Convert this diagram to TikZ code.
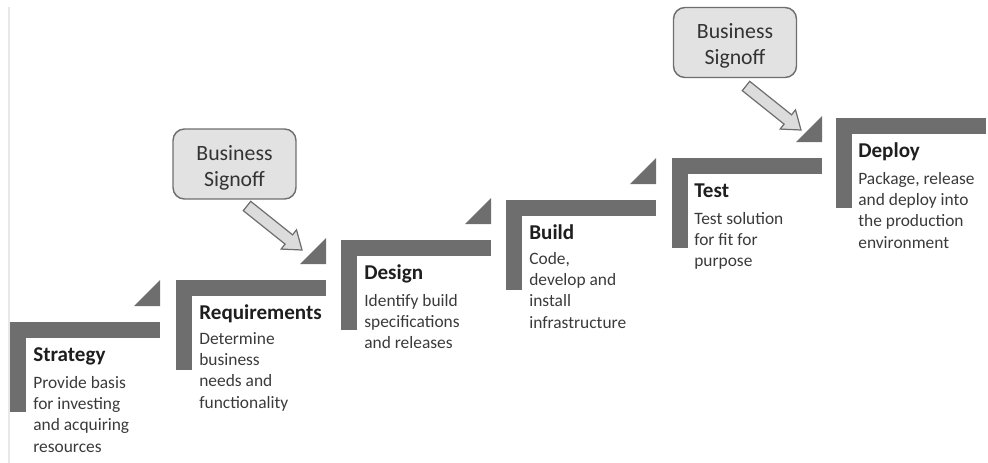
\documentclass[tikz,border=0pt]{standalone}
\usepackage{fontspec}
\setmainfont{Carlito}
\usetikzlibrary{calc}

\definecolor{stairgray}{HTML}{6E6E6E}
\definecolor{signfill}{HTML}{E2E2E2}
\definecolor{arrowfill}{HTML}{DCDCDC}
\definecolor{titletext}{HTML}{1E1E1E}
\definecolor{bodytext}{HTML}{3A3A3A}

\tikzset{
  stair/.style={fill=stairgray},
  steptitle/.style={anchor=base west, inner sep=0pt, text=titletext,
    font=\fontsize{12}{14}\selectfont\bfseries},
  stepbody/.style={anchor=north west, inner sep=0pt, align=left,
    text=bodytext, font=\fontsize{9.9}{12.1}\selectfont},
  signoff/.style={draw=stairgray, fill=signfill, line width=0.8pt,
    rounded corners=6.5pt, minimum width=2.46cm, minimum height=1.4cm,
    align=center, text height=28pt, text depth=2.6pt, text=black!80,
    font=\fontsize{12.4}{14.7}\selectfont},
  blockarrow/.style={fill=arrowfill, draw=stairgray, line width=0.7pt,
    to path={($(\tikztostart)!3.4pt!90:(\tikztotarget)$)
      -- ($(\tikztotarget)!9.6pt!(\tikztostart)!3.4pt!90:(\tikztotarget)$)
      -- ($(\tikztotarget)!9.6pt!(\tikztostart)!7pt!90:(\tikztotarget)$)
      -- (\tikztotarget)
      -- ($(\tikztotarget)!9.6pt!(\tikztostart)!7pt!-90:(\tikztotarget)$)
      -- ($(\tikztotarget)!9.6pt!(\tikztostart)!3.4pt!-90:(\tikztotarget)$)
      -- ($(\tikztostart)!3.4pt!-90:(\tikztotarget)$) -- cycle}}
}

\begin{document}
\begin{tikzpicture}[x=0.02cm, y=-0.02cm]
  \useasboundingbox (0,0) rectangle (988,463);

  % faint rule down the left side
  \draw[line width=1.1pt, black!9] (9,7) -- (9,463);

  % corners of the six stairs
  \coordinate (s1) at (10,322);
  \coordinate (s2) at (176,280);
  \coordinate (s3) at (341,240);
  \coordinate (s4) at (506,200);
  \coordinate (s5) at (672,158);
  \coordinate (s6) at (836,118);

  \foreach \s in {s1,s2,s3,s4,s5,s6} {
    \fill[stair] (\s) rectangle ++(150,16);
    \fill[stair] (\s) rectangle ++(16,90);
  }
  \foreach \s in {s1,s2,s3,s4,s5} {
    \fill[stair] ($(\s)+(124,-16)$) -- ++(26,0) -- ++(0,-26) -- cycle;
  }

  \node (strategy) [steptitle] at ($(s1)+(23,39)$) {Strategy};
  \node (strategy-txt) [stepbody] at ($(s1)+(23,54)$)
    {Provide basis\\for investing\\and acquiring\\resources};

  \node (requirements) [steptitle] at ($(s2)+(23,39)$) {Requirements};
  \node (requirements-txt) [stepbody] at ($(s2)+(23,52)$)
    {Determine\\business\\needs and\\functionality};

  \node (design) [steptitle] at ($(s3)+(23,39)$) {Design};
  \node (design-txt) [stepbody] at ($(s3)+(23,54)$)
    {Identify build\\specifications\\and releases};

  \node (build) [steptitle] at ($(s4)+(23,39)$) {Build};
  \node (build-txt) [stepbody] at ($(s4)+(23,52)$)
    {Code,\\develop and\\install\\infrastructure};

  \node (test) [steptitle] at ($(s5)+(22,39)$) {Test};
  \node (test-txt) [stepbody] at ($(s5)+(22,54)$)
    {Test solution\\for fit for\\purpose};

  \node (deploy) [steptitle] at ($(s6)+(22,39)$) {Deploy};
  \node (deploy-txt) [stepbody] at ($(s6)+(22,54)$)
    {Package, release\\and deploy into\\the production\\environment};

  % sign-off boxes and their arrows
  \node (sign1) [signoff] at (234.5,164) {Business\\Signoff};
  \node (sign2) [signoff] at (735,42.5) {Business\\Signoff};

  \coordinate (sign1-tail) at (247,206);
  \coordinate (sign1-tip) at (302,250);
  \coordinate (sign2-tail) at (746,86);
  \coordinate (sign2-tip) at (801,130);

  \draw[blockarrow] (sign1-tail) to (sign1-tip);
  \draw[blockarrow] (sign2-tail) to (sign2-tip);
\end{tikzpicture}
\end{document}
